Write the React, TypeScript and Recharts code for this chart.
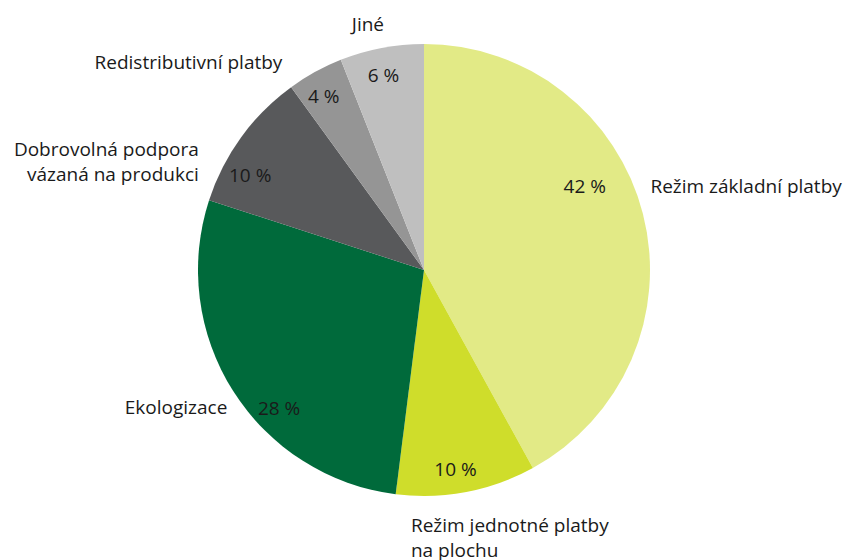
import { PieChart, Pie, Cell } from "recharts";

const categories = [
  "Režim základní platby",
  "Režim jednotné platby\nna plochu",
  "Ekologizace",
  "Dobrovolná podpora\nvázaná na produkci",
  "Redistributivní platby",
  "Jiné",
];
const shares = [42, 10, 28, 10, 4, 6];
const colors = ["#e2ea86", "#cfdd2b", "#006a3b", "#58595b", "#959595", "#bfbfbf"];

const data = categories.map((name, i) => ({ name, value: shares[i] }));

// label tweaks (anchor + nudge from the radial position), mimicking Excel's best fit
const outerNudge: { anchor: "start" | "end"; dx: number; dy: number }[] = [
  { anchor: "start", dx: -6, dy: -24 },
  { anchor: "start", dx: -58, dy: 19 },
  { anchor: "end", dx: 6, dy: 8 },
  { anchor: "end", dx: -31, dy: 20 },
  { anchor: "end", dx: -26, dy: 2 },
  { anchor: "end", dx: 5, dy: -10 },
];
const innerNudge = [
  { dx: -33, dy: -34 },
  { dx: -6, dy: 3 },
  { dx: 24, dy: 31 },
  { dx: -12, dy: 23 },
  { dx: -4, dy: 1 },
  { dx: -3, dy: 1 },
];

const RAD = Math.PI / 180;
const font = "'Open Sans', 'Noto Sans', sans-serif";

function renderLabel(props: any) {
  const { cx, cy, midAngle, outerRadius, index, value } = props;
  const cos = Math.cos(-midAngle * RAD);
  const sin = Math.sin(-midAngle * RAD);
  const ro = outerRadius + 14;
  const ri = outerRadius - 26;
  const o = outerNudge[index];
  const n = innerNudge[index];
  const ox = cx + ro * cos + o.dx;
  const oy = cy + ro * sin + o.dy;
  const ix = cx + ri * cos + n.dx;
  const iy = cy + ri * sin + n.dy;
  const lines = categories[index].split("\n");
  return (
    <g>
      <text
        x={ix}
        y={iy}
        textAnchor="middle"
        dominantBaseline="central"
        fontFamily={font}
        fontSize={19}
        fill="#1a1a1a"
      >
        {`${value} %`}
      </text>
      <text
        x={ox}
        y={oy}
        textAnchor={o.anchor}
        dominantBaseline="central"
        fontFamily={font}
        fontSize={19}
        fill="#1a1a1a"
      >
        {lines.map((l, k) => (
          <tspan key={k} x={ox} dy={k === 0 ? 0 : 25}>
            {l}
          </tspan>
        ))}
      </text>
    </g>
  );
}

export default function App() {
  return (
    <div style={{ position: "absolute", left: 0, top: 0, background: "#fff" }}>
      <PieChart width={848} height={560} margin={{ top: 0, right: 0, bottom: 0, left: 0 }}>
        <Pie
          data={data}
          dataKey="value"
          nameKey="name"
          cx={424}
          cy={270}
          outerRadius={226}
          startAngle={90}
          endAngle={-270}
          stroke="none"
          label={renderLabel}
          labelLine={false}
          isAnimationActive={false}
        >
          {data.map((d, i) => (
            <Cell key={d.name} fill={colors[i]} />
          ))}
        </Pie>
      </PieChart>
    </div>
  );
}
